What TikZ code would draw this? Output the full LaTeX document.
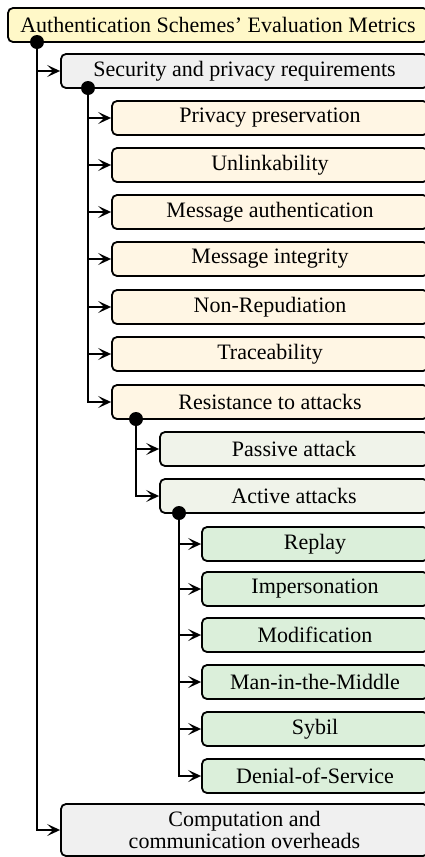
\documentclass[tikz,border=0pt]{standalone}
\usepackage{fontspec}
\setmainfont{Liberation Serif}
\usetikzlibrary{arrows.meta}
\definecolor{rootfill}{RGB}{255,248,200}
\definecolor{grayfill}{RGB}{240,240,240}
\definecolor{creamfill}{RGB}{255,246,228}
\definecolor{palefill}{RGB}{240,243,234}
\definecolor{greenfill}{RGB}{219,239,218}
\tikzset{
  box/.style={draw, rounded corners=5pt, line width=1.8pt, minimum height=34pt,
    inner sep=0pt, font=\fontsize{22}{25}\selectfont},
  arr/.style={line width=1.8pt, -{Stealth[length=13pt,width=12pt,inset=6pt]}},
  dot/.style={fill=black}
}
\begin{document}
\begin{tikzpicture}[x=1pt,y=-1pt]
\useasboundingbox (0,0) rectangle (425,857);
\begin{scope}
\clip (0,0) rectangle (425,857);
% level 0
\node[box, fill=rootfill, minimum width=420pt] (root) at (218,25) {Authentication Schemes’ Evaluation Metrics};
% level 1
\node[box, fill=grayfill, minimum width=367pt] (sec) at (244.5,71) {Security and privacy requirements};
\node[box, fill=grayfill, minimum width=367pt, minimum height=52pt, align=center,
  font=\fontsize{22}{22}\selectfont] (comp) at (244.5,830) {Computation and\\communication overheads};
% level 2
\foreach \n/\y/\t in {pp/118/Privacy preservation, ul/165/Unlinkability,
  ma/212/Message authentication, mi/259/Message integrity,
  nr/307/Non-Repudiation, tr/354/Traceability, ra/402/Resistance to attacks}
  \node[box, fill=creamfill, minimum width=316pt] (\n) at (270,\y) {\t};
% level 3
\node[box, fill=palefill, minimum width=268pt] (pa) at (294,449) {Passive attack};
\node[box, fill=palefill, minimum width=268pt] (aa) at (294,496) {Active attacks};
% level 4
\foreach \n/\y/\t in {rp/544/Replay, im/589/Impersonation, mo/635/Modification,
  mm/682/Man-in-the-Middle, sy/729/Sybil, ds/776/Denial-of-Service}
  \node[box, fill=greenfill, minimum width=226pt] (\n) at (315,\y) {\t};

% branch points
\coordinate (d0) at (37,42);
\coordinate (d1) at (88,88);
\coordinate (d2) at (136,419);
\coordinate (d3) at (179,513);

\foreach \b in {sec, comp} \draw[arr] (d0) |- (\b.west);
\foreach \b in {pp, ul, ma, mi, nr, tr, ra} \draw[arr] (d1) |- (\b.west);
\foreach \b in {pa, aa} \draw[arr] (d2) |- (\b.west);
\foreach \b in {rp, im, mo, mm, sy, ds} \draw[arr] (d3) |- (\b.west);

\foreach \d in {d0, d1, d2, d3} \fill[dot] (\d) circle (7pt);
\end{scope}
\end{tikzpicture}
\end{document}
